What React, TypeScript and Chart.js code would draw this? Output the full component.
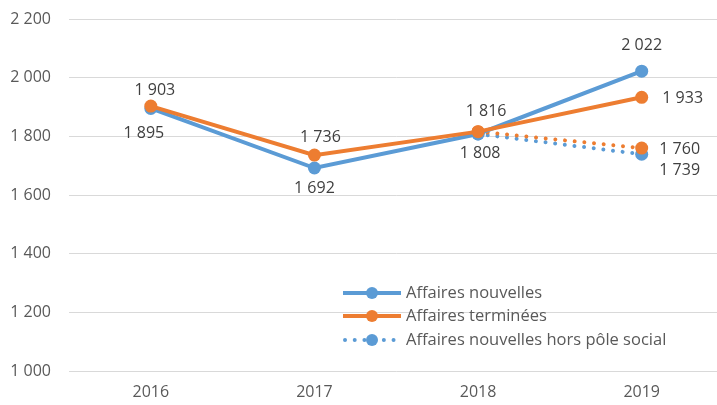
import React, { useEffect, useRef } from "react";
import { Chart, registerables } from "chart.js";

Chart.register(...registerables);

// ---- data ----
const years = ["2016", "2017", "2018", "2019"];
const affairesNouvelles = [1895, 1692, 1808, 2022];
const affairesTerminees = [1903, 1736, 1816, 1933];
const nouvellesHorsPole = [null, null, 1808, 1739];
const termineesHorsPole = [null, null, 1816, 1760];
const yMin = 1000;
const yMax = 2200;
const yStep = 200;

// ---- style ----
const BLUE = "#5B9BD5";
const ORANGE = "#ED7D31";
const FONT = "'Open Sans'";
const LABEL_COLOR = "#404040";
const AXIS_COLOR = "#595959";
const GRID_COLOR = "#D9D9D9";

// label offsets (dx, dy) relative to each point; null = no label
const labelOffsets: (number[] | null)[][] = [
  [[-7, 25], [0, 20], [2, 19], [0, -26]],
  [[4, -16], [6, -18], [8, -20], [41, 1]],
  [null, null, null, [38, 16]],
  [null, null, null, [38, 1]],
];

const fmt = (n: number) => String(n).replace(/\B(?=(\d{3})+(?!\d))/g, " ");

const dataLabelPlugin = {
  id: "dataLabels",
  afterDatasetsDraw(chart: any) {
    const ctx = chart.ctx;
    ctx.save();
    ctx.font = `16px ${FONT}`;
    ctx.fillStyle = LABEL_COLOR;
    ctx.textAlign = "center";
    ctx.textBaseline = "middle";
    chart.data.datasets.forEach((ds: any, i: number) => {
      const meta = chart.getDatasetMeta(i);
      ds.data.forEach((v: number | null, j: number) => {
        const off = labelOffsets[i] && labelOffsets[i][j];
        if (v == null || !off) return;
        const pt = meta.data[j];
        ctx.fillText(fmt(v), pt.x + off[0], pt.y + off[1]);
      });
    });
    ctx.restore();
  },
};

const legendPlugin = {
  id: "customLegend",
  afterDraw(chart: any) {
    const ctx = chart.ctx;
    const items = chart.data.datasets.filter((d: any) => d.showInLegend);
    const x0 = 343;
    const rows = [293, 316, 340];
    ctx.save();
    items.forEach((ds: any, k: number) => {
      const y = rows[k];
      const isDotted = ds.borderDash && ds.borderDash.length;
      ctx.strokeStyle = ds.borderColor;
      ctx.lineWidth = ds.borderWidth;
      ctx.lineCap = isDotted ? "round" : "butt";
      ctx.setLineDash(ds.borderDash || []);
      ctx.beginPath();
      ctx.moveTo(x0 + (isDotted ? 2 : 0), y);
      ctx.lineTo(x0 + 58, y);
      ctx.stroke();
      ctx.setLineDash([]);
      ctx.fillStyle = ds.pointBackgroundColor;
      ctx.beginPath();
      ctx.arc(x0 + 29, y, 6, 0, Math.PI * 2);
      ctx.fill();
      ctx.fillStyle = AXIS_COLOR;
      ctx.font = `16.5px ${FONT}`;
      ctx.textAlign = "left";
      ctx.textBaseline = "middle";
      ctx.fillText(ds.label, x0 + 63, y);
    });
    ctx.restore();
  },
};

export default function App() {
  const ref = useRef<HTMLCanvasElement>(null);

  useEffect(() => {
    document.body.style.margin = "0";
    document.body.style.overflow = "hidden";
    document.documentElement.style.overflow = "hidden";
    const dotted = [0.01, 9.7];
    const mk = (label: string, data: any[], color: string, dash: number[], order: number, showInLegend: boolean) => ({
      label,
      data,
      borderColor: color,
      backgroundColor: color,
      pointBackgroundColor: color,
      pointBorderColor: color,
      pointBorderWidth: 0,
      pointRadius: 6.5,
      pointHoverRadius: 6.5,
      borderWidth: 4,
      borderDash: dash,
      borderCapStyle: dash.length ? "round" : "butt",
      tension: 0,
      spanGaps: false,
      order,
      showInLegend,
    });
    const chart = new Chart(ref.current!, {
      type: "line",
      data: {
        labels: years,
        datasets: [
          mk("Affaires nouvelles", affairesNouvelles, BLUE, [], 2, true),
          mk("Affaires terminées", affairesTerminees, ORANGE, [], 1, true),
          mk("Affaires nouvelles hors pôle social", nouvellesHorsPole, BLUE, dotted, 4, true),
          mk("Affaires terminées hors pôle social", termineesHorsPole, ORANGE, dotted, 3, false),
        ] as any,
      },
      options: {
        responsive: false,
        animation: false,
        layout: { padding: { top: 19, right: 4, left: 0, bottom: 0 } },
        plugins: {
          legend: { display: false },
          tooltip: { enabled: false },
        },
        scales: {
          x: {
            offset: true,
            grid: { display: false, drawTicks: false },
            border: { display: false },
            ticks: { color: AXIS_COLOR, font: { family: FONT, size: 16 }, padding: 12 },
            afterFit: (s: any) => {
              s.height = 34;
              s.paddingLeft = 0;
              s.paddingRight = 0;
            },
          },
          y: {
            min: yMin,
            max: yMax,
            ticks: {
              stepSize: yStep,
              color: AXIS_COLOR,
              font: { family: FONT, size: 16 },
              padding: 18,
              callback: (v: any) => fmt(Number(v)),
            },
            grid: { color: GRID_COLOR, lineWidth: 1, drawTicks: false },
            border: { display: false },
            afterFit: (s: any) => {
              s.width = 69;
              s.paddingTop = 0;
              s.paddingBottom = 0;
            },
          },
        },
      } as any,
      plugins: [dataLabelPlugin, legendPlugin],
    });
    return () => chart.destroy();
  }, []);

  return (
    <div style={{ width: 730, height: 405, overflow: "hidden" }}>
      <canvas ref={ref} width={730} height={405} />
    </div>
  );
}
